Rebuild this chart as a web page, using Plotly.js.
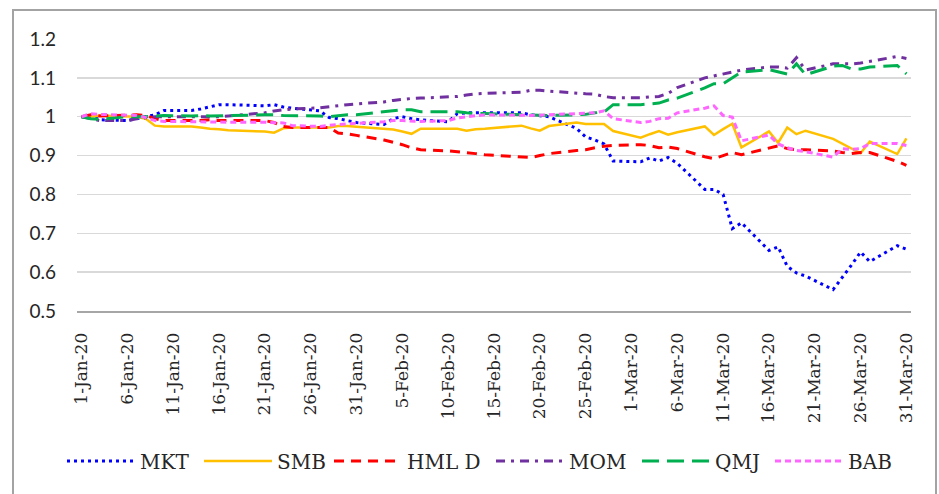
<!DOCTYPE html>
<html>
<head>
<meta charset="utf-8">
<script src="https://cdn.plot.ly/plotly-3.0.1.min.js"></script>
<style>
  html, body { margin: 0; padding: 0; background: #fff; }
  #wrap { position: relative; width: 939px; height: 494px; overflow: hidden; }
  #chart { position: absolute; left: 0; top: 0; width: 939px; height: 494px; }
  #frame { position: absolute; left: 12px; top: 9px; width: 921px; height: 520px; border: 2px solid #a3a3a3; pointer-events: none; }
</style>
</head>
<body>
<div id="wrap"><div id="chart"></div><div id="frame"></div></div>
<script>
const dates = ['2020-01-01','2020-01-02','2020-01-03','2020-01-06','2020-01-07','2020-01-08','2020-01-09','2020-01-10',
  '2020-01-13','2020-01-14','2020-01-15','2020-01-16','2020-01-17','2020-01-21','2020-01-22','2020-01-23','2020-01-24',
  '2020-01-27','2020-01-28','2020-01-29','2020-01-30','2020-01-31','2020-02-03','2020-02-04','2020-02-05','2020-02-06',
  '2020-02-07','2020-02-10','2020-02-11','2020-02-12','2020-02-13','2020-02-14','2020-02-18','2020-02-19','2020-02-20',
  '2020-02-21','2020-02-24','2020-02-25','2020-02-26','2020-02-27','2020-02-28','2020-03-02','2020-03-03','2020-03-04',
  '2020-03-05','2020-03-06','2020-03-09','2020-03-10','2020-03-11','2020-03-12','2020-03-13','2020-03-16','2020-03-17',
  '2020-03-18','2020-03-19','2020-03-20','2020-03-23','2020-03-24','2020-03-25','2020-03-26','2020-03-27','2020-03-30',
  '2020-03-31'];

const MKT = [1.000,1.002,0.992,0.990,0.995,1.000,1.005,1.016,1.016,1.020,1.026,1.031,1.031,1.028,1.031,1.025,1.022,
  1.015,0.998,0.995,0.990,0.985,0.980,0.995,1.000,0.995,0.992,0.987,1.008,1.010,1.010,1.010,1.010,1.005,1.002,
  1.000,0.970,0.948,0.940,0.930,0.886,0.884,0.894,0.886,0.895,0.880,0.813,0.813,0.800,0.712,0.727,0.656,0.665,
  0.615,0.598,0.590,0.555,0.585,0.618,0.652,0.627,0.668,0.659];

const SMB = [1.000,1.000,1.003,1.000,1.000,0.995,0.977,0.975,0.975,0.972,0.969,0.968,0.965,0.962,0.959,0.970,0.972,
  0.972,0.972,0.976,0.976,0.974,0.968,0.967,0.962,0.956,0.969,0.969,0.969,0.964,0.968,0.969,0.977,0.970,0.964,
  0.976,0.985,0.981,0.981,0.981,0.963,0.946,0.955,0.963,0.954,0.960,0.975,0.953,0.968,0.982,0.921,0.962,0.933,
  0.972,0.955,0.964,0.943,0.930,0.917,0.906,0.936,0.904,0.944];

const HMLD = [1.000,1.005,1.002,1.003,1.005,1.003,0.995,0.990,0.990,0.990,0.992,0.990,0.990,0.990,0.985,0.975,0.972,
  0.972,0.972,0.958,0.956,0.952,0.940,0.934,0.928,0.920,0.915,0.912,0.910,0.908,0.905,0.902,0.897,0.895,0.900,
  0.905,0.913,0.915,0.920,0.924,0.926,0.928,0.926,0.920,0.922,0.918,0.897,0.892,0.900,0.908,0.902,0.920,0.925,
  0.918,0.915,0.915,0.912,0.908,0.905,0.908,0.908,0.885,0.875];

const MOM = [1.000,0.995,0.990,0.990,0.995,0.997,1.000,1.000,1.000,1.000,1.000,1.000,1.002,1.010,1.015,1.018,1.020,
  1.023,1.026,1.028,1.031,1.033,1.038,1.042,1.045,1.047,1.048,1.050,1.052,1.056,1.059,1.060,1.063,1.068,1.068,
  1.066,1.060,1.059,1.058,1.052,1.049,1.049,1.051,1.052,1.060,1.075,1.100,1.105,1.110,1.115,1.120,1.128,1.128,
  1.125,1.152,1.120,1.136,1.136,1.136,1.138,1.142,1.155,1.150];

const QMJ = [1.000,0.995,0.993,1.000,1.000,1.000,1.002,1.003,1.002,1.003,1.002,1.003,1.003,1.005,1.005,1.003,1.003,
  1.002,1.000,1.003,1.005,1.005,1.012,1.015,1.018,1.018,1.013,1.013,1.013,1.010,1.008,1.008,1.005,1.003,1.003,
  1.003,1.005,1.006,1.010,1.012,1.031,1.031,1.033,1.035,1.043,1.048,1.074,1.085,1.085,1.100,1.115,1.121,1.115,
  1.110,1.136,1.108,1.130,1.132,1.123,1.123,1.128,1.132,1.110];

const BAB = [1.000,1.008,1.006,1.005,1.003,0.998,0.990,0.988,0.987,0.987,0.986,0.987,0.986,0.986,0.985,0.984,0.977,
  0.975,0.978,0.980,0.982,0.983,0.987,0.990,0.990,0.989,0.988,0.990,0.997,1.000,1.003,1.005,1.004,1.003,1.004,
  1.005,1.008,1.010,1.010,1.015,0.995,0.985,0.988,0.995,0.996,1.010,1.022,1.028,1.003,0.999,0.938,0.953,0.930,
  0.920,0.913,0.910,0.896,0.918,0.916,0.918,0.931,0.931,0.926];

const tickDates = ['2020-01-01','2020-01-06','2020-01-11','2020-01-16','2020-01-21','2020-01-26','2020-01-31',
  '2020-02-05','2020-02-10','2020-02-15','2020-02-20','2020-02-25','2020-03-01','2020-03-06','2020-03-11',
  '2020-03-16','2020-03-21','2020-03-26','2020-03-31'];
const tickLabels = ['1-Jan-20','6-Jan-20','11-Jan-20','16-Jan-20','21-Jan-20','26-Jan-20','31-Jan-20',
  '5-Feb-20','10-Feb-20','15-Feb-20','20-Feb-20','25-Feb-20','1-Mar-20','6-Mar-20','11-Mar-20',
  '16-Mar-20','21-Mar-20','26-Mar-20','31-Mar-20'];
const yTicks = [0.5,0.6,0.7,0.8,0.9,1,1.1,1.2];
const yLabels = ['0.5','0.6','0.7','0.8','0.9','1','1.1','1.2'];

const SERIF = "'DejaVu Serif', serif";
const SANS = "Lato, 'Open Sans', sans-serif";

// series styling and legend slot (left edge of each legend sample, in page px)
const series = [
  { name: 'MKT',   y: MKT,  color: '#0000ff', dash: '3px,4px',           width: 3,   legendLeft: 70 },
  { name: 'SMB',   y: SMB,  color: '#ffc000', dash: 'solid',             width: 2.5, legendLeft: 207 },
  { name: 'HML D', y: HMLD, color: '#ff0000', dash: '10px,7px',          width: 3,   legendLeft: 337 },
  { name: 'MOM',   y: MOM,  color: '#7030a0', dash: '9px,6px,3px,6px',   width: 3,   legendLeft: 499 },
  { name: 'QMJ',   y: QMJ,  color: '#00b050', dash: '17px,8px',          width: 3,   legendLeft: 645 },
  { name: 'BAB',   y: BAB,  color: '#ff66ff', dash: '6px,4px',           width: 3,   legendLeft: 778 }
];

const W = 939, H = 494;
const LEG_OFFSET = 8;

const data = series.map((s, i) => ({
  x: dates, y: s.y, name: s.name, type: 'scatter', mode: 'lines',
  legend: i === 0 ? 'legend' : 'legend' + (i + 1),
  line: { color: s.color, dash: s.dash, width: s.width }
}));

const layout = {
  width: W, height: H,
  margin: { l: 77, r: 28, t: 39, b: 183 },
  paper_bgcolor: '#ffffff', plot_bgcolor: '#ffffff',
  font: { family: SERIF, color: '#262626', size: 18 },
  showlegend: true,
  xaxis: { type: 'date', range: ['2019-12-31 12:00', '2020-03-31 12:00'], tickvals: tickDates, ticktext: tickLabels,
    tickangle: -90, tickfont: { family: SERIF, size: 17, color: '#262626' }, showgrid: false, zeroline: false,
    showline: true, linecolor: '#a6a6a6', linewidth: 2, ticks: '', ticklabelstandoff: 13, fixedrange: true },
  yaxis: { range: [0.5, 1.2], tickvals: yTicks, ticktext: yLabels, showgrid: true, gridcolor: '#d9d9d9', gridwidth: 1.5,
    zeroline: false, showline: false, ticks: '', tickfont: { family: SANS, size: 19, color: '#262626' },
    ticklabelstandoff: 20, fixedrange: true }
};

series.forEach((s, i) => {
  const key = i === 0 ? 'legend' : 'legend' + (i + 1);
  layout[key] = {
    orientation: 'h', xref: 'container', yref: 'container',
    x: (s.legendLeft - LEG_OFFSET) / W, xanchor: 'left', y: 1 - 461 / H, yanchor: 'middle',
    itemwidth: 68, bgcolor: 'rgba(0,0,0,0)',
    font: { family: SERIF, size: 20, color: '#262626' }
  };
});

Plotly.newPlot('chart', data, layout, { displayModeBar: false, staticPlot: true });
</script>
</body>
</html>
